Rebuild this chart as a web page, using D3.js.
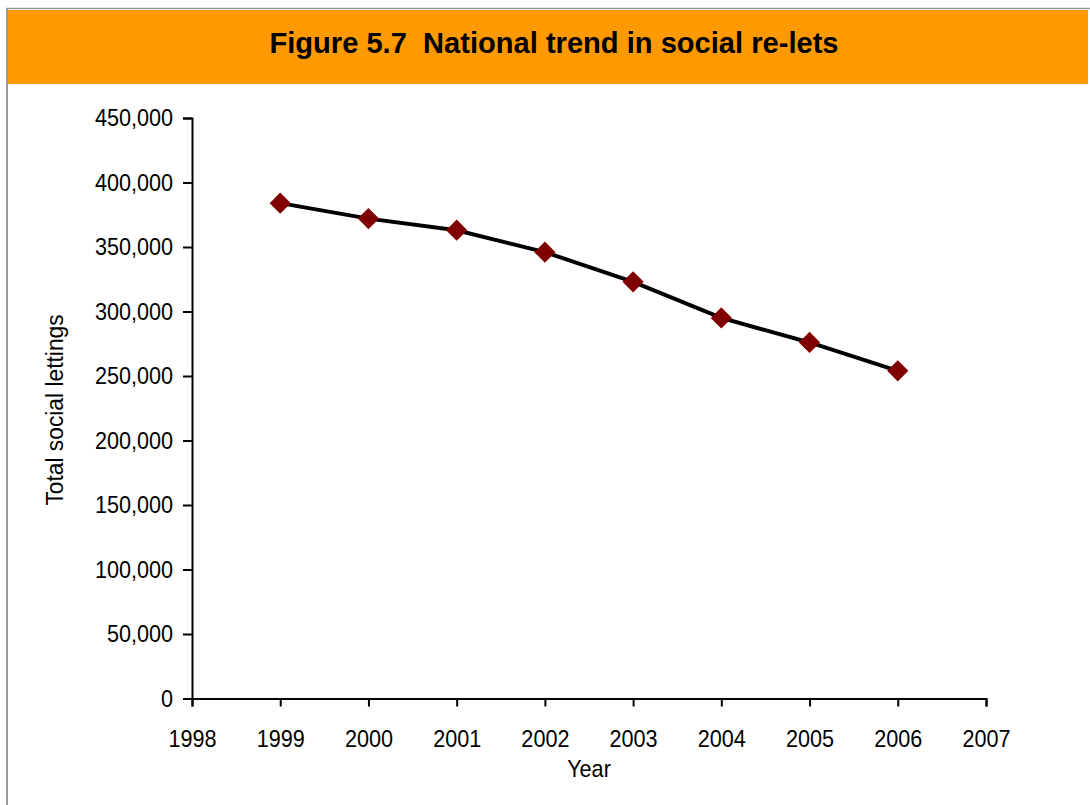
<!DOCTYPE html>
<html>
<head>
<meta charset="utf-8">
<script src="https://cdn.jsdelivr.net/npm/d3@7"></script>
<style>
    body { margin: 0; background: #fff; }
    svg { display: block; font-family: "Liberation Sans", Arial, sans-serif; }
</style>
</head>
<body>
<div id="chart"></div>
<script>
// chart data
const years = [1999, 2000, 2001, 2002, 2003, 2004, 2005, 2006];
const lettings = [384000, 372000, 363000, 346000, 323000, 295000, 276000, 254000];
const xTicks = [1998, 1999, 2000, 2001, 2002, 2003, 2004, 2005, 2006, 2007];
const yTicks = [0, 50000, 100000, 150000, 200000, 250000, 300000, 350000, 400000, 450000];

const width = 1090, height = 805;
const squeeze = 0.9; // the source font is a bit narrower than Arial

const svg = d3.select('#chart')
    .append('svg')
    .attr('width', width)
    .attr('height', height);

// frame + title band
svg.append('line')
    .attr('x1', 6).attr('x2', width).attr('y1', 8.5).attr('y2', 8.5)
    .style('stroke', '#9a9a9a').style('stroke-width', 1.5);
svg.append('line')
    .attr('x1', 7).attr('x2', 7).attr('y1', 8).attr('y2', height)
    .style('stroke', '#9a9a9a').style('stroke-width', 2);
svg.append('rect')
    .attr('x', 8).attr('y', 10)
    .attr('width', 1080).attr('height', 74)
    .style('fill', '#ff9900');
svg.append('text')
    .attr('transform', 'translate(554,53) scale(0.97,1)')
    .attr('text-anchor', 'middle')
    .style('font-size', '30px')
    .style('font-weight', 'bold')
    .style('white-space', 'pre')
    .text('Figure 5.7  National trend in social re-lets');

const margin = { top: 118, left: 192 };
const plotW = 794, plotH = 580.5;

const x = d3.scaleLinear()
    .domain([1998, 2007])
    .range([0, plotW]);
const y = d3.scaleLinear()
    .domain([0, 450000])
    .range([plotH, 0]);

const g = svg.append('g')
    .attr('transform', `translate(${margin.left}, ${margin.top})`);

const xAxis = d3.axisBottom(x)
    .tickValues(xTicks)
    .tickFormat(d3.format('d'))
    .tickSizeInner(8)
    .tickSizeOuter(8)
    .tickPadding(23);
const yAxis = d3.axisLeft(y)
    .tickValues(yTicks)
    .tickFormat(d3.format(','))
    .tickSizeInner(9)
    .tickSizeOuter(9)
    .tickPadding(10);

const xg = g.append('g')
    .attr('transform', 'translate(0,' + plotH + ')')
    .call(xAxis);
const yg = g.append('g')
    .call(yAxis);

[xg, yg].forEach(a => {
    a.select('.domain').style('stroke', '#000').style('stroke-width', 2);
    a.selectAll('.tick line').style('stroke', '#000').style('stroke-width', 2);
    a.selectAll('.tick text')
        .style('font-size', '24px')
        .style('fill', '#000')
        .style('font-family', '"Liberation Sans", Arial, sans-serif')
        .attr('transform', function () {
            const tx = +d3.select(this).attr('x') || 0;
            return `translate(${tx},0) scale(${squeeze},1) translate(${-tx},0)`;
        });
});

g.append('text')
    .attr('transform', `translate(397,659) scale(${squeeze},1)`)
    .attr('text-anchor', 'middle')
    .style('font-size', '24px')
    .text('Year');

g.append('text')
    .attr('transform', `translate(${63 - margin.left},${410 - margin.top}) rotate(-90) scale(0.95,1)`)
    .attr('text-anchor', 'middle')
    .style('font-size', '24px')
    .text('Total social lettings');

const points = years.map((yr, i) => ({ year: yr, value: lettings[i] }));

const valueLine = d3.line()
    .x(d => x(d.year))
    .y(d => y(d.value));

g.append('path')
    .datum(points)
    .attr('d', valueLine)
    .style('fill', 'none')
    .style('stroke', '#000')
    .style('stroke-width', 4);

const diamond = d3.symbol().type(d3.symbolSquare).size(225);
g.selectAll('.marker')
    .data(points)
    .enter()
    .append('path')
    .attr('class', 'marker')
    .attr('d', diamond)
    .attr('transform', d => `translate(${x(d.year)},${y(d.value)}) rotate(45)`)
    .style('fill', '#800000');
</script>
</body>
</html>
